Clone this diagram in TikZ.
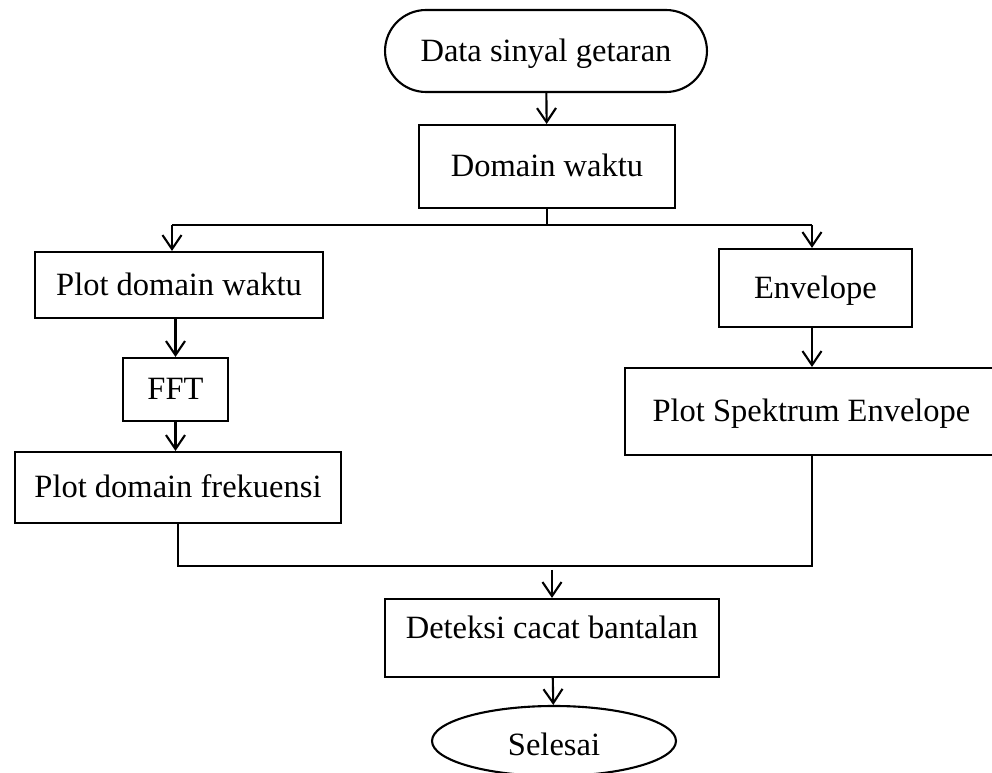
\documentclass[tikz,border=0pt]{standalone}
\usepackage{fontspec}
\setmainfont{Liberation Serif}
\usepackage{tikz}
\usetikzlibrary{arrows.meta,shapes.misc,shapes.geometric}

\begin{document}
\begin{tikzpicture}[
        x=0.02cm, y=-0.02cm,
        every node/.style={draw, line width=1.2pt, inner sep=0pt,
          font=\fontsize{18.5}{22}\selectfont, text height=0.42cm, text depth=0cm},
        box/.style={rectangle},
        terminal/.style={rounded rectangle, rounded rectangle arc length=180},
        finish/.style={ellipse},
        arrow/.style={-{Straight Barb[length=0.28cm, width=0.38cm]}, line width=1.2pt},
        link/.style={line width=1.2pt}
      ]
        \useasboundingbox (0,0) rectangle (992,773);
        \clip (0,0) rectangle (992,773);

        \node[terminal, minimum width=6.44cm, minimum height=1.64cm] (start) at (546,51) {Data sinyal getaran};
        \node[box, minimum width=5.12cm, minimum height=1.66cm] (dom) at (547,166.5) {Domain waktu};
        \node[box, minimum width=5.76cm, minimum height=1.32cm] (pdw) at (179,285) {Plot domain waktu};
        \node[box, minimum width=2.10cm, minimum height=1.26cm] (fft) at (175.5,389.5) {FFT};
        \node[box, minimum width=6.52cm, minimum height=1.42cm] (pdf) at (178,487.5) {Plot domain frekuensi};
        \node[box, minimum width=3.86cm, minimum height=1.56cm] (env) at (815.5,288) {Envelope};
        \node[box, minimum width=7.46cm, minimum height=1.74cm] (pse) at (811.5,411.5) {Plot Spektrum Envelope};
        \node[box, minimum width=6.68cm, minimum height=1.56cm, text depth=0.38cm] (det) at (552,638) {Deteksi cacat bantalan};
        \node[finish, minimum width=4.88cm, minimum height=1.40cm, text height=0.6cm] (sel) at (554,741) {Selesai};

        % split and merge points
        \coordinate (jl) at (172,225);
        \coordinate (jr) at (812,225);
        \coordinate (ml) at (178,566);
        \coordinate (mr) at (812,566);
        \coordinate (mm) at (552,570);

        \draw[arrow] (start) -- (dom);
        \draw[link] (dom.south) -- (dom.south |- jl);
        \draw[link] (jl) -- (jr);
        \draw[arrow] (jl) -- (jl |- pdw.north);
        \draw[arrow] (jr) -- (jr |- env.north);

        % left branch
        \draw[arrow] (pdw.south -| fft.north) -- (fft.north);
        \draw[arrow] (fft.south) -- (pdf.north -| fft.south);

        % right branch
        \draw[arrow] (env.south -| jr) -- (jr |- pse.north);

        % merge
        \draw[link] (pdf.south -| ml) -- (ml) -- (mr) -- (mr |- pse.south);
        \draw[arrow] (mm) -- (det.north);
        \draw[arrow] (det) -- (sel);

    \end{tikzpicture}
\end{document}
